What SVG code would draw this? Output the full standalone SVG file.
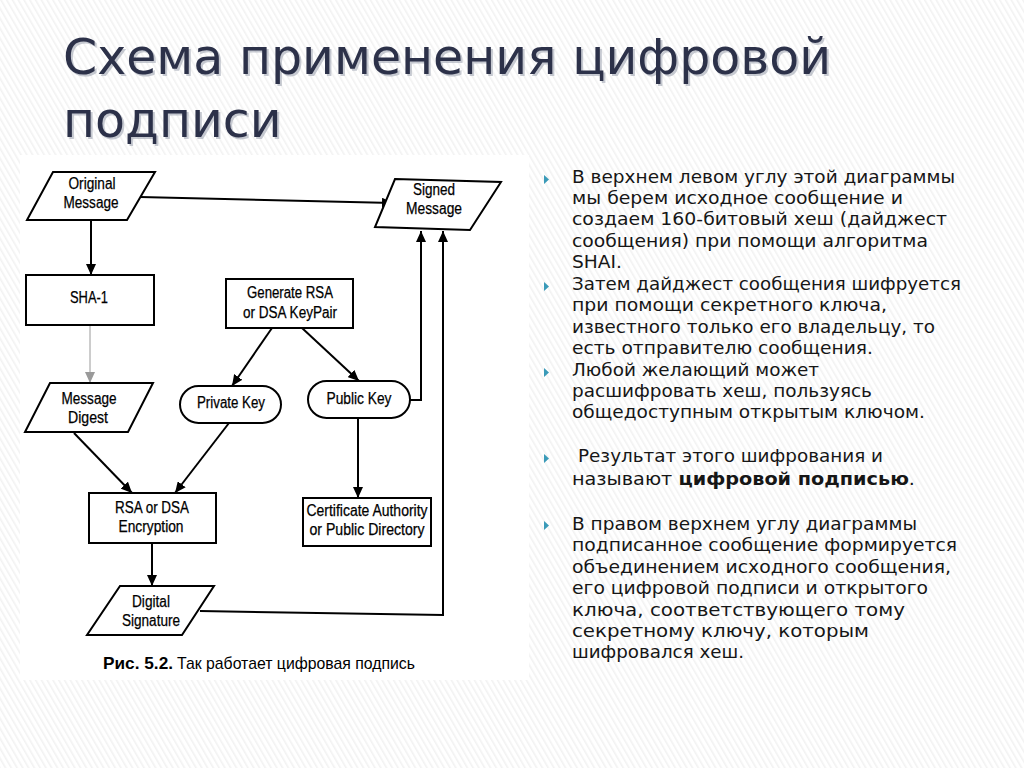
<svg xmlns="http://www.w3.org/2000/svg" width="1024" height="768" viewBox="0 0 1024 768">
<defs>
<pattern id="hatch" width="5" height="5" patternUnits="userSpaceOnUse" patternTransform="rotate(-30)">
<rect x="0" y="0" width="5" height="5" fill="#ffffff"/>
<rect x="0" y="0" width="1.6" height="5" fill="#f2f2f2"/>
</pattern>
<marker id="arr" markerUnits="userSpaceOnUse" markerWidth="12" markerHeight="10" refX="11" refY="5" orient="auto">
<path d="M0,0 L11,5 L0,10 z" fill="#000"/>
</marker>
<marker id="arrg" markerUnits="userSpaceOnUse" markerWidth="12" markerHeight="10" refX="11" refY="5" orient="auto">
<path d="M0,0 L11,5 L0,10 z" fill="#9a9a9a"/>
</marker>
<style>
.title{font-family:"DejaVu Sans","Noto Sans",sans-serif;font-size:49px;fill:#2c3149}
.tshadow{font-family:"DejaVu Sans","Noto Sans",sans-serif;font-size:49px;fill:#9aa0ae;opacity:0.55}
.body{font-family:"DejaVu Sans","Noto Sans",sans-serif;font-size:18px;fill:#161616}
.b{font-weight:bold}
.shape{fill:#fff;stroke:#000;stroke-width:2}
.lbl{font-family:"Liberation Sans",Arial,sans-serif;font-size:16px;fill:#000;stroke:#000;stroke-width:0.25;text-anchor:middle}
.cap{font-family:"Liberation Sans",Arial,sans-serif;font-size:17px;fill:#000}
.conn{fill:none;stroke:#000;stroke-width:2}
.bullet{fill:#3a9ab8}
</style>
</defs>
<rect x="0" y="0" width="1024" height="768" fill="url(#hatch)"/>
<rect x="20" y="155" width="509" height="525" fill="#ffffff"/>

<g id="title">
<text class="tshadow" x="65" y="76">Схема применения цифровой</text>
<text class="tshadow" x="65" y="139">подписи</text>
<text class="title" x="63" y="74">Схема применения цифровой</text>
<text class="title" x="63" y="137">подписи</text>
</g>

<g id="connectors">
<line class="conn" x1="140" y1="197" x2="393" y2="203" marker-end="url(#arr)"/>
<line class="conn" x1="91" y1="220" x2="91" y2="275" marker-end="url(#arr)"/>
<line x1="90" y1="326" x2="90" y2="383" stroke="#9a9a9a" stroke-width="1" marker-end="url(#arrg)"/>
<line class="conn" x1="272" y1="328" x2="232" y2="386" marker-end="url(#arr)"/>
<line class="conn" x1="302" y1="328" x2="359" y2="381" marker-end="url(#arr)"/>
<polyline class="conn" points="410,400 421,400 421,231" marker-end="url(#arr)"/>
<polyline class="conn" points="200,611 443,615 443,231" marker-end="url(#arr)"/>
<line class="conn" x1="358" y1="418" x2="358" y2="498" marker-end="url(#arr)"/>
<line class="conn" x1="74" y1="433" x2="132" y2="493" marker-end="url(#arr)"/>
<line class="conn" x1="229" y1="423" x2="175" y2="493" marker-end="url(#arr)"/>
<line class="conn" x1="152" y1="543" x2="152" y2="586" marker-end="url(#arr)"/>
</g>

<g id="original-message">
<polygon class="shape" points="53,172 155,172 127,220 27,220"/>
<text class="lbl" x="92" y="189" textLength="47" lengthAdjust="spacingAndGlyphs">Original</text>
<text class="lbl" x="91" y="208" textLength="55" lengthAdjust="spacingAndGlyphs">Message</text>
</g>

<g id="signed-message">
<polygon class="shape" points="395,179 501,182 470,230 375,227"/>
<text class="lbl" x="434" y="195" textLength="42" lengthAdjust="spacingAndGlyphs">Signed</text>
<text class="lbl" x="434" y="214" textLength="56" lengthAdjust="spacingAndGlyphs">Message</text>
</g>

<g id="sha1">
<rect class="shape" x="26" y="275" width="128" height="50"/>
<text class="lbl" x="89" y="303" textLength="38" lengthAdjust="spacingAndGlyphs">SHA-1</text>
</g>

<g id="generate-keypair">
<rect class="shape" x="226" y="279" width="127" height="49"/>
<text class="lbl" x="290" y="298" textLength="86" lengthAdjust="spacingAndGlyphs">Generate RSA</text>
<text class="lbl" x="290" y="318" textLength="94" lengthAdjust="spacingAndGlyphs">or DSA KeyPair</text>
</g>

<g id="message-digest">
<polygon class="shape" points="50,383 153,383 128,432 25,432"/>
<text class="lbl" x="89" y="404" textLength="55" lengthAdjust="spacingAndGlyphs">Message</text>
<text class="lbl" x="88" y="423" textLength="40" lengthAdjust="spacingAndGlyphs">Digest</text>
</g>

<g id="private-key">
<rect class="shape" x="180" y="386" width="101" height="37" rx="18.5"/>
<text class="lbl" x="231" y="408" textLength="68" lengthAdjust="spacingAndGlyphs">Private Key</text>
</g>

<g id="public-key">
<rect class="shape" x="308" y="381" width="102" height="37" rx="18.5"/>
<text class="lbl" x="359" y="404" textLength="65" lengthAdjust="spacingAndGlyphs">Public Key</text>
</g>

<g id="rsa-encryption">
<rect class="shape" x="89" y="493" width="127" height="50"/>
<text class="lbl" x="152" y="513" textLength="74" lengthAdjust="spacingAndGlyphs">RSA or DSA</text>
<text class="lbl" x="151" y="532" textLength="65" lengthAdjust="spacingAndGlyphs">Encryption</text>
</g>

<g id="certificate-authority">
<rect class="shape" x="303" y="498" width="128" height="48"/>
<text class="lbl" x="367" y="516" textLength="121" lengthAdjust="spacingAndGlyphs">Certificate Authority</text>
<text class="lbl" x="367" y="535" textLength="115" lengthAdjust="spacingAndGlyphs">or Public Directory</text>
</g>

<g id="digital-signature">
<polygon class="shape" points="120,586 214,586 182,635 87,635"/>
<text class="lbl" x="151" y="607" textLength="38" lengthAdjust="spacingAndGlyphs">Digital</text>
<text class="lbl" x="151" y="626" textLength="58" lengthAdjust="spacingAndGlyphs">Signature</text>
</g>

<g id="caption">
<text class="cap" x="103" y="669" font-weight="bold" textLength="70" lengthAdjust="spacingAndGlyphs">Рис. 5.2.</text>
<text class="cap" x="177" y="669" textLength="238" lengthAdjust="spacingAndGlyphs">Так работает цифровая подпись</text>
</g>

<g id="bullets">
<path class="bullet" d="M544,175 L549,179.5 L544,184 z"/>
<path class="bullet" d="M544,282 L549,286.5 L544,291 z"/>
<path class="bullet" d="M544,368 L549,372.5 L544,377 z"/>
<path class="bullet" d="M544,454 L549,458.5 L544,463 z"/>
<path class="bullet" d="M544,521 L549,525.5 L544,530 z"/>
</g>

<g id="text">
<text class="body" x="572" y="183" textLength="383" lengthAdjust="spacingAndGlyphs">В верхнем левом углу этой диаграммы</text>
<text class="body" x="572" y="204" textLength="331" lengthAdjust="spacingAndGlyphs">мы берем исходное сообщение и</text>
<text class="body" x="572" y="225" textLength="375" lengthAdjust="spacingAndGlyphs">создаем 160-битовый хеш (дайджест</text>
<text class="body" x="572" y="247" textLength="356" lengthAdjust="spacingAndGlyphs">сообщения) при помощи алгоритма</text>
<text class="body" x="572" y="268" textLength="50" lengthAdjust="spacingAndGlyphs">SHAI.</text>
<text class="body" x="572" y="290" textLength="389" lengthAdjust="spacingAndGlyphs">Затем дайджест сообщения шифруется</text>
<text class="body" x="572" y="311" textLength="315" lengthAdjust="spacingAndGlyphs">при помощи секретного ключа,</text>
<text class="body" x="572" y="333" textLength="363" lengthAdjust="spacingAndGlyphs">известного только его владельцу, то</text>
<text class="body" x="572" y="354" textLength="301" lengthAdjust="spacingAndGlyphs">есть отправителю сообщения.</text>
<text class="body" x="572" y="376" textLength="247" lengthAdjust="spacingAndGlyphs">Любой желающий может</text>
<text class="body" x="572" y="397" textLength="300" lengthAdjust="spacingAndGlyphs">расшифровать хеш, пользуясь</text>
<text class="body" x="572" y="418" textLength="353" lengthAdjust="spacingAndGlyphs">общедоступным открытым ключом.</text>
<text class="body" x="578" y="462" textLength="305" lengthAdjust="spacingAndGlyphs">Результат этого шифрования и</text>
<text class="body" x="572" y="485" textLength="343" lengthAdjust="spacingAndGlyphs">называют <tspan class="b">цифровой подписью</tspan>.</text>
<text class="body" x="572" y="530" textLength="345" lengthAdjust="spacingAndGlyphs">В правом верхнем углу диаграммы</text>
<text class="body" x="572" y="551" textLength="385" lengthAdjust="spacingAndGlyphs">подписанное сообщение формируется</text>
<text class="body" x="572" y="573" textLength="379" lengthAdjust="spacingAndGlyphs">объединением исходного сообщения,</text>
<text class="body" x="572" y="594" textLength="356" lengthAdjust="spacingAndGlyphs">его цифровой подписи и открытого</text>
<text class="body" x="572" y="616" textLength="333" lengthAdjust="spacingAndGlyphs">ключа, соответствующего тому</text>
<text class="body" x="572" y="637" textLength="297" lengthAdjust="spacingAndGlyphs">секретному ключу, которым</text>
<text class="body" x="572" y="658" textLength="172" lengthAdjust="spacingAndGlyphs">шифровался хеш.</text>
</g>
</svg>
